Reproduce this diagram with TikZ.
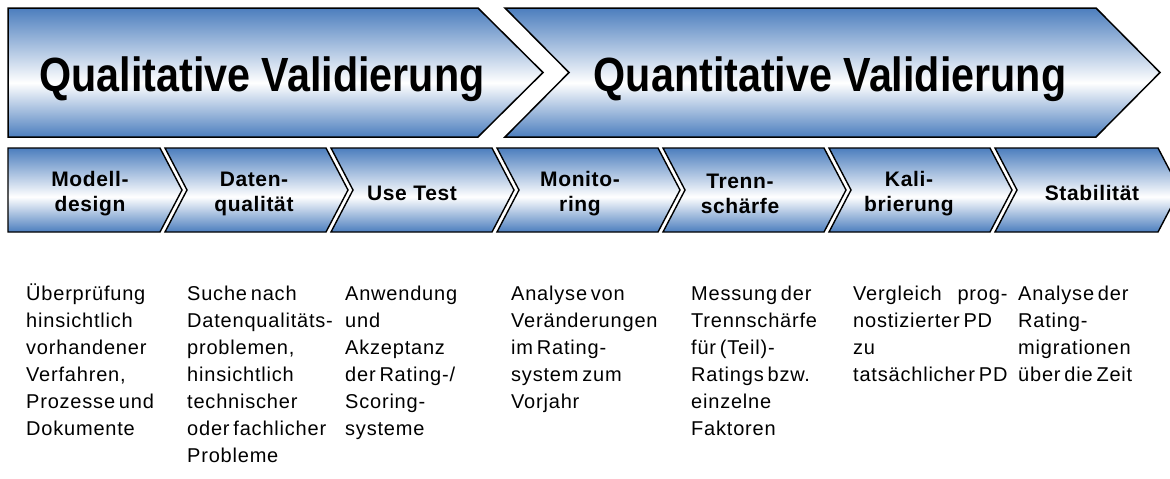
\documentclass[tikz,border=0pt]{standalone}
\usepackage{fontspec}
\setmainfont{Liberation Sans}
\newfontfamily\titlefont{Liberation Sans}[FakeStretch=0.86]
\newfontfamily\labfont{Liberation Sans}[LetterSpace=3]
\newfontfamily\descfont{Liberation Sans}[LetterSpace=4,WordSpace=0.6]
\usepackage{calc}
\usepackage{tikz}
\definecolor{barblue}{RGB}{76,126,190}
\pgfdeclareverticalshading{barshade}{100bp}{color(0bp)=(barblue); color(25bp)=(barblue); color(46bp)=(white); color(75bp)=(barblue); color(100bp)=(barblue)}

\begin{document}
\begin{tikzpicture} [
    x = 1pt, y = -1pt,
    bar/.style = {draw=black, line width=1.5pt, shading=barshade},
    chev/.style = {draw=black, line width=1.4pt, shading=barshade},
    head/.style = {inner sep=0pt, font=\titlefont\bfseries\fontsize{48}{52}\selectfont},
    lab/.style = {align=center, inner sep=0pt, font=\labfont\bfseries\fontsize{21}{25}\selectfont},
    desc/.style = {anchor=north west, align=left, inner sep=0pt, font=\descfont\fontsize{20}{27}\selectfont}
    ]
    \useasboundingbox (0,0) rectangle (1170,479);

    \draw[bar] (8,8) -- (478,8) -- (543,72.5) -- (478,137) -- (8,137) -- cycle;
    \draw[bar] (505,8) -- (1096,8) -- (1160,72.5) -- (1096,137) -- (505,137) -- (569,72.5) -- cycle;
    \node[head] (qual) at (262,79.5) {Qualitative Validierung};
    \node[head] (quant) at (830,79.5) {Quantitative Validierung};

    \draw[chev] (8,148) -- (160,148) -- (182,190) -- (160,232) -- (8,232) -- cycle;
    \foreach \s/\e in {165/326, 331/492, 497/658, 663/824, 829/990, 995/1158}
        \draw[chev] (\s,148) -- (\e,148) -- (\e+22,190) -- (\e,232) -- (\s,232) -- (\s+22,190) -- cycle;

    \node[lab] (modell) at (90,194) {Modell-\\design};
    \node[lab] (daten) at (254,194) {Daten-\\qualität};
    \node[lab] (usetest) at (412,193) {Use Test};
    \node[lab] (monito) at (580,194) {Monito-\\ring};
    \node[lab] (trenn) at (740,194) {Trenn-\\schärfe};
    \node[lab] (kali) at (909,194) {Kali-\\brierung};
    \node[lab] (stabil) at (1092,193) {Stabilität};

    \node[desc] (dmodell) at (26,281) {\strut Überprüfung\\hinsichtlich\\vorhandener\\Verfahren,\\Prozesse und\\Dokumente};
    \node[desc] (ddaten) at (187,281) {\strut Suche nach\\Datenqualitäts-\\problemen,\\hinsichtlich\\technischer\\oder fachlicher\\Probleme};
    \node[desc] (dusetest) at (345,281) {\strut Anwendung\\und\\Akzeptanz\\der Rating-/\\Scoring-\\systeme};
    \node[desc] (dmonito) at (511,281) {\strut Analyse von\\Veränderungen\\im Rating-\\system zum\\Vorjahr};
    \node[desc] (dtrenn) at (691,281) {\strut Messung der\\Trennschärfe\\für (Teil)-\\Ratings bzw.\\einzelne\\Faktoren};
    \node[desc] (dkali) at (853,281) {\strut\makebox[\widthof{tatsächlicher PD}][l]{Vergleich\hfill prog-}\\nostizierter PD\\zu\\tatsächlicher PD};
    \node[desc] (dstabil) at (1018,281) {\strut Analyse der\\Rating-\\migrationen\\über die Zeit};
\end{tikzpicture}
\end{document}
